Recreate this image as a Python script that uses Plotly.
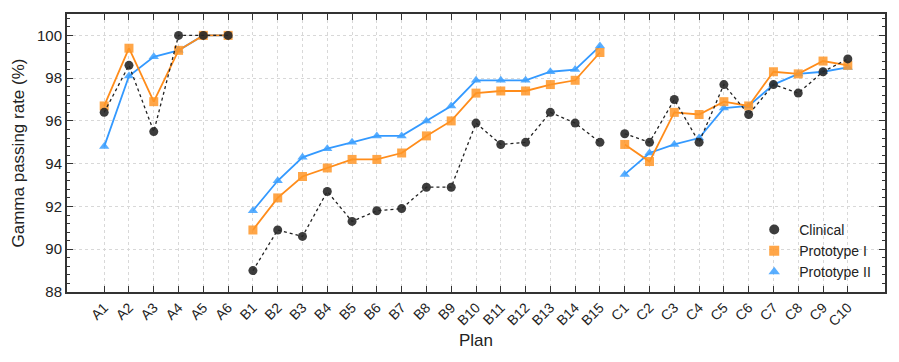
import plotly.graph_objects as go

groups = {
    "A": ["A1", "A2", "A3", "A4", "A5", "A6"],
    "B": ["B%d" % i for i in range(1, 16)],
    "C": ["C%d" % i for i in range(1, 11)],
}
plans = groups["A"] + groups["B"] + groups["C"]

clinical = [96.4, 98.6, 95.5, 100.0, 100.0, 100.0,
            89.0, 90.9, 90.6, 92.7, 91.3, 91.8, 91.9, 92.9, 92.9,
            95.9, 94.9, 95.0, 96.4, 95.9, 95.0,
            95.4, 95.0, 97.0, 95.0, 97.7, 96.3, 97.7, 97.3, 98.3, 98.9]
proto1 = [96.7, 99.4, 96.9, 99.3, 100.0, 100.0,
          90.9, 92.4, 93.4, 93.8, 94.2, 94.2, 94.5, 95.3, 96.0,
          97.3, 97.4, 97.4, 97.7, 97.9, 99.2,
          94.9, 94.1, 96.4, 96.3, 96.9, 96.7, 98.3, 98.2, 98.8, 98.6]
proto2 = [94.8, 98.1, 99.0, 99.3, 100.0, 100.0,
          91.8, 93.2, 94.3, 94.7, 95.0, 95.3, 95.3, 96.0, 96.7,
          97.9, 97.9, 97.9, 98.3, 98.4, 99.5,
          93.5, 94.5, 94.9, 95.2, 96.6, 96.7, 97.7, 98.2, 98.3, 98.5]

series = [
    ("Clinical", clinical, "circle", "rgba(40,40,40,0.9)", dict(color="#222", width=1.3, dash="dot")),
    ("Prototype I", proto1, "square", "rgba(255,150,40,0.85)", dict(color="#FF8C1A", width=1.8)),
    ("Prototype II", proto2, "triangle-up", "rgba(60,160,255,0.85)", dict(color="#3399FF", width=1.8)),
]

fig = go.Figure()
for name, vals, sym, mcol, line in reversed(series):
    start = 0
    for g, labs in groups.items():
        n = len(labs)
        fig.add_trace(go.Scatter(
            x=labs, y=vals[start:start + n], mode="lines+markers",
            line=line, marker=dict(symbol=sym, size=9, color=mcol),
            showlegend=False, name=name))
        start += n

# marker-only legend entries
for name, vals, sym, mcol, line in series:
    fig.add_trace(go.Scatter(x=[None], y=[None], mode="markers", name=name,
                             marker=dict(symbol=sym, size=10, color=mcol)))

# page body has an 8px margin, so margins are offset to land the frame where the reference has it
fig.update_layout(
    width=899, height=362,
    margin=dict(l=59, r=22, t=6, b=78),
    plot_bgcolor="white", paper_bgcolor="white",
    font=dict(family="Liberation Sans, Arial, sans-serif", size=14, color="#222"),
    legend=dict(x=0.834, y=0.015, xanchor="left", yanchor="bottom",
                bgcolor="rgba(255,255,255,0)", font=dict(size=14),
                itemwidth=40, tracegroupgap=0),
)
fig.update_xaxes(
    type="category", categoryorder="array", categoryarray=plans,
    range=[-1.5, 31.5], tickangle=-45, automargin=False,
    title=dict(text="Plan", standoff=6),
    showline=True, linewidth=2, linecolor="#333", mirror="allticks",
    ticks="inside", ticklen=6, tickcolor="#333",
    showgrid=True, gridcolor="#d8d8d8", griddash="dot", gridwidth=1,
    tickfont=dict(size=14),
)
fig.update_yaxes(
    range=[88, 101], dtick=2, tick0=88, automargin=False,
    title=dict(text="Gamma passing rate (%)", standoff=8),
    showline=True, linewidth=2, linecolor="#333", mirror="allticks",
    ticks="inside", ticklen=6, tickcolor="#333",
    minor=dict(dtick=0.4, tick0=88, ticks="inside", ticklen=3, tickcolor="#333", showgrid=False),
    showgrid=True, gridcolor="#d8d8d8", griddash="dot", gridwidth=1,
    zeroline=False, tickfont=dict(size=15),
)

fig.write_html("out.html")
